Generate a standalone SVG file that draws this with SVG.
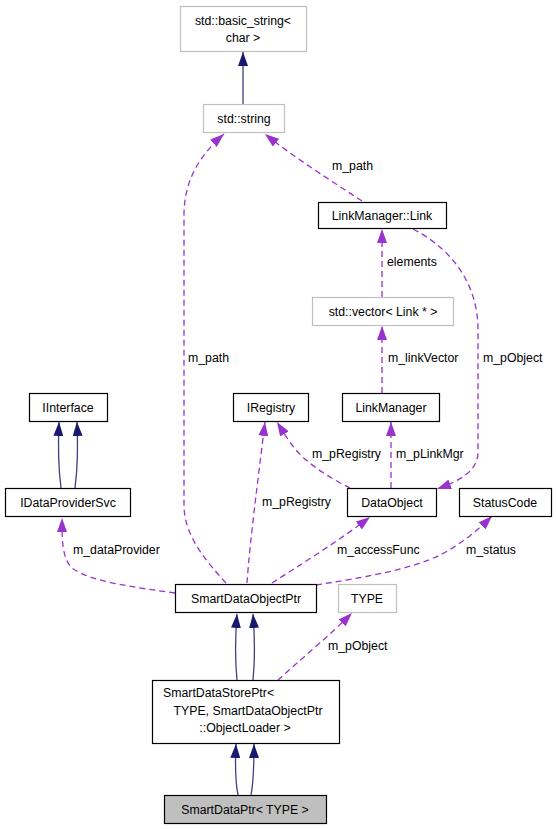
<svg xmlns="http://www.w3.org/2000/svg" width="556" height="829" viewBox="0 0 556 829">
<style>
text{font-family:"Liberation Sans",Arial,sans-serif;font-size:12.3px;fill:#000}
.c{text-anchor:middle}
.nb{fill:#fff;stroke:#000;stroke-width:1.2}
.ng{fill:#fff;stroke:#bfbfbf;stroke-width:1.2}
.nf{fill:#bfbfbf;stroke:#000;stroke-width:1.2}
.inh{fill:none;stroke:#404080;stroke-width:1.3;marker-end:url(#an)}
.use{fill:none;stroke:#9a32cd;stroke-width:1.3;stroke-dasharray:6,4;marker-end:url(#ap)}
</style>
<defs>
<marker id="an" markerUnits="userSpaceOnUse" markerWidth="14" markerHeight="10" refX="14" refY="5" orient="auto"><path d="M0,0 L14,5 L0,10 z" fill="#191970"/></marker>
<marker id="ap" markerUnits="userSpaceOnUse" markerWidth="14" markerHeight="10" refX="14" refY="5" orient="auto"><path d="M0,0 L14,5 L0,10 z" fill="#9a32cd"/></marker>
</defs>
<rect width="556" height="829" fill="#fff"/>
<g id="edges">
<path class="inh" d="M243,104 L243,52"/>
<path class="use" d="M362,201 C330,180 295,158 265,134"/>
<path class="use" d="M226,583 C205,560 184,535 184,505 L184,215 C184,180 200,155 224,134"/>
<path class="use" d="M382,297 L382,229"/>
<path class="use" d="M413,229 C450,248 478,282 478,330 L478,452 C478,470 462,480 437,489"/>
<path class="use" d="M382,393 L382,326"/>
<path class="use" d="M391,488 L391,422"/>
<path class="use" d="M350,488 C330,478 305,463 292,445 C286,437 282,430 277,422"/>
<path class="use" d="M247,583 C250,540 258,480 265,422"/>
<path class="inh" d="M61,488 C58,465 58,445 59,422"/>
<path class="inh" d="M75,488 C78,465 78,445 77,422"/>
<path class="use" d="M175,593 C140,588 90,582 72,568 C62,558 62,540 62,518"/>
<path class="use" d="M272,583 C300,565 340,540 370,517"/>
<path class="use" d="M316,585 C360,578 410,570 440,555 C460,545 478,530 492,516"/>
<path class="inh" d="M237,680 C235,660 235,640 237,614"/>
<path class="inh" d="M253,680 C255,660 255,640 253,614"/>
<path class="use" d="M278,680 C300,660 330,635 352,613"/>
<path class="inh" d="M238,795 C235,780 235,765 236,744"/>
<path class="inh" d="M251,795 C254,780 254,765 254,744"/>
<text x="332" y="170">m_path</text>
<text x="188" y="362">m_path</text>
<text x="387" y="266">elements</text>
<text x="483" y="362">m_pObject</text>
<text x="388" y="362">m_linkVector</text>
<text x="312" y="458">m_pRegistry</text>
<text x="396" y="458">m_pLinkMgr</text>
<text x="262" y="506">m_pRegistry</text>
<text x="73" y="554">m_dataProvider</text>
<text x="337" y="554">m_accessFunc</text>
<text x="466" y="554">m_status</text>
<text x="328" y="650">m_pObject</text>
</g>
<g id="basic_string"><rect class="ng" x="180.5" y="6.5" width="126" height="45"/><text class="c" x="243" y="25">std::basic_string&lt;</text><text class="c" x="243" y="42">char &gt;</text></g>
<g id="string"><rect class="ng" x="203.5" y="104.5" width="81" height="28"/><text class="c" x="244" y="123">std::string</text></g>
<g id="link"><rect class="nb" x="318.5" y="202.5" width="128" height="26"/><text class="c" x="382" y="220">LinkManager::Link</text></g>
<g id="vector"><rect class="ng" x="312.5" y="297.5" width="141" height="28"/><text class="c" x="383" y="316">std::vector&lt; Link * &gt;</text></g>
<g id="IInterface"><rect class="nb" x="29.5" y="393.5" width="78" height="28"/><text class="c" x="68" y="412">IInterface</text></g>
<g id="IRegistry"><rect class="nb" x="233.5" y="393.5" width="75" height="28"/><text class="c" x="271" y="412">IRegistry</text></g>
<g id="LinkManager"><rect class="nb" x="342.5" y="393.5" width="97" height="28"/><text class="c" x="391" y="412">LinkManager</text></g>
<g id="IDataProviderSvc"><rect class="nb" x="5.5" y="488.5" width="125" height="28"/><text class="c" x="68" y="507">IDataProviderSvc</text></g>
<g id="DataObject"><rect class="nb" x="347.5" y="488.5" width="89" height="28"/><text class="c" x="392" y="507">DataObject</text></g>
<g id="StatusCode"><rect class="nb" x="459.5" y="488.5" width="92" height="28"/><text class="c" x="505" y="507">StatusCode</text></g>
<g id="SmartDataObjectPtr"><rect class="nb" x="175.5" y="584.5" width="141" height="28"/><text class="c" x="246" y="603">SmartDataObjectPtr</text></g>
<g id="TYPE"><rect class="ng" x="338.5" y="584.5" width="58" height="28"/><text class="c" x="367" y="603">TYPE</text></g>
<g id="SmartDataStorePtr"><rect class="nb" x="152.5" y="680.5" width="187" height="63"/><text x="163" y="697">SmartDataStorePtr&lt;</text><text class="c" x="248" y="715">TYPE, SmartDataObjectPtr</text><text class="c" x="245" y="732">::ObjectLoader &gt;</text></g>
<g id="SmartDataPtr"><rect class="nf" x="164.5" y="795.5" width="162" height="28"/><text class="c" x="245" y="814">SmartDataPtr&lt; TYPE &gt;</text></g>
</svg>
